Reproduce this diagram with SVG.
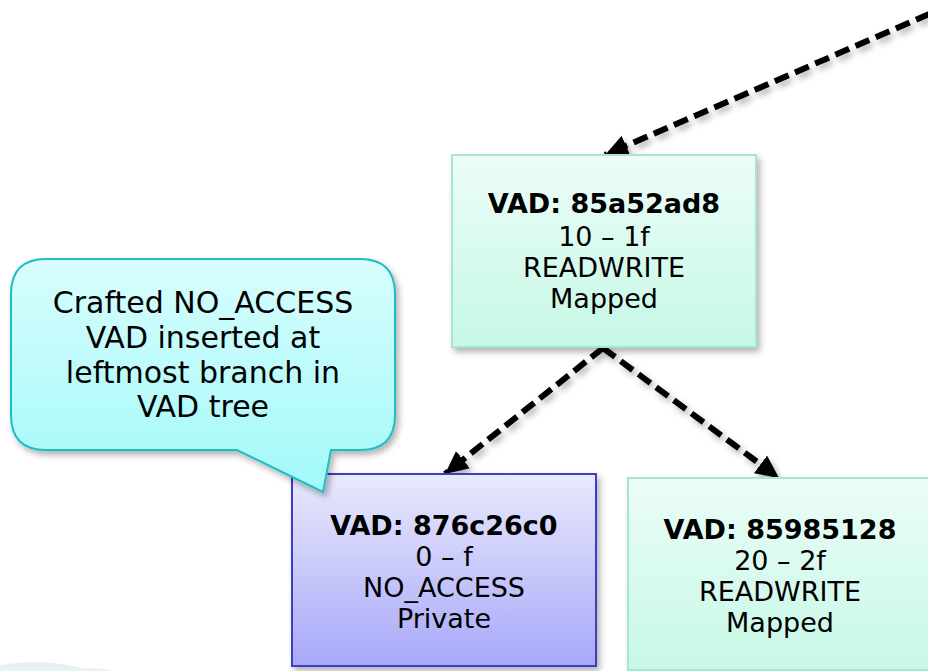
<svg xmlns="http://www.w3.org/2000/svg" width="928" height="671" viewBox="0 0 928 671">
<defs>
<linearGradient id="gGreen" x1="0" y1="0" x2="0" y2="1"><stop offset="0" stop-color="#ecfdf8"/><stop offset="1" stop-color="#c6f8e5"/></linearGradient>
<linearGradient id="gBlue" x1="0" y1="0" x2="0" y2="1"><stop offset="0" stop-color="#e9e9fd"/><stop offset="1" stop-color="#a8a8f9"/></linearGradient>
<linearGradient id="gCyan" x1="0" y1="0" x2="0" y2="1"><stop offset="0" stop-color="#d8fdfd"/><stop offset="1" stop-color="#a2f9f9"/></linearGradient>
<filter id="sh" x="-10%" y="-10%" width="125%" height="125%"><feDropShadow dx="3" dy="4" stdDeviation="3" flood-color="#000" flood-opacity="0.3"/></filter>
<marker id="ah" markerUnits="userSpaceOnUse" markerWidth="30" markerHeight="30" refX="23" refY="11" orient="auto"><path d="M0,0 L23,11 L0,22 Z" fill="#000"/></marker>
<style>
.t{font-family:"DejaVu Sans",Verdana,sans-serif;font-size:27px;fill:#000;text-anchor:middle}
.b{font-weight:bold}
.c{font-family:"DejaVu Sans",Verdana,sans-serif;font-size:30px;fill:#000;text-anchor:middle}
.con{fill:none;stroke:#000;stroke-width:6;stroke-dasharray:15 7;marker-end:url(#ah)}
.green{fill:url(#gGreen);stroke:#a8e6d0;stroke-width:2}
.blue{fill:url(#gBlue);stroke:#3c3cc6;stroke-width:2}
</style>
</defs>
<rect width="928" height="671" fill="#fff"/>
<g id="bg-deco" fill="#e9f1f4">
<ellipse cx="35" cy="690" rx="75" ry="28"/>
<ellipse cx="92" cy="690" rx="40" ry="22"/>
</g>
<g id="connectors" filter="url(#sh)">
<line class="con" x1="950" y1="5" x2="605" y2="155"/>
<line class="con" x1="603" y1="348" x2="445" y2="474"/>
<line class="con" x1="603" y1="348" x2="779" y2="478"/>
</g>
<g id="node-root">
<rect class="green" x="452" y="155" width="304" height="192" filter="url(#sh)"/>
<text class="t b" x="604" y="213">VAD: 85a52ad8</text>
<text class="t" x="604" y="246">10 – 1f</text>
<text class="t" x="604" y="277">READWRITE</text>
<text class="t" x="604" y="308">Mapped</text>
</g>
<g id="node-left">
<rect class="blue" x="292" y="474" width="304" height="192" filter="url(#sh)"/>
<text class="t b" x="444" y="535">VAD: 876c26c0</text>
<text class="t" x="444" y="566">0 – f</text>
<text class="t" x="444" y="597">NO_ACCESS</text>
<text class="t" x="444" y="628">Private</text>
</g>
<g id="node-right">
<rect class="green" x="628" y="478" width="304" height="192" filter="url(#sh)"/>
<text class="t b" x="780" y="539">VAD: 85985128</text>
<text class="t" x="780" y="570">20 – 2f</text>
<text class="t" x="780" y="601">READWRITE</text>
<text class="t" x="780" y="632">Mapped</text>
</g>
<g id="callout">
<path d="M46,259 H360 Q395,259 395,294 V415 Q395,450 360,450 H331 L323,492 L237,450 H46 Q11,450 11,415 V294 Q11,259 46,259 Z" fill="url(#gCyan)" stroke="#1fbec4" stroke-width="2" filter="url(#sh)"/>
<text class="c" x="203" y="313">Crafted NO_ACCESS</text>
<text class="c" x="203" y="348">VAD inserted at</text>
<text class="c" x="203" y="383">leftmost branch in</text>
<text class="c" x="203" y="417">VAD tree</text>
</g>
</svg>
